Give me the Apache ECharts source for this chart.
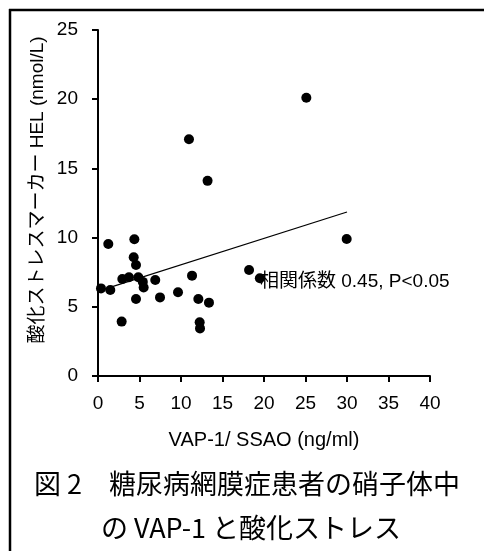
<!DOCTYPE html>
<html><head><meta charset="utf-8">
<script src="https://cdn.jsdelivr.net/npm/echarts@6/dist/echarts.min.js"></script>
<style>html,body{margin:0;padding:0;background:#fff}#c{width:484px;height:551px}</style>
</head><body><div id="c"></div>
<script>
// VAP-1/SSAO (ng/ml) vs HEL (nmol/L)
const vapX = [1.24, 4.38, 4.3, 4.58, 2.93, 3.73, 4.86, 5.4, 5.5, 6.9, 0.36, 1.48, 4.58, 7.47, 2.85,
              11.33, 9.64, 12.09, 13.37, 12.25, 12.29, 10.96, 13.2, 25.1, 29.96, 18.2, 19.5];
const helY = [9.54, 9.88, 8.58, 8.02, 7.01, 7.13, 7.13, 6.8, 6.4, 6.94, 6.33, 6.21, 5.56, 5.68, 3.93,
              7.25, 6.05, 5.56, 5.3, 3.88, 3.44, 17.1, 14.1, 20.1, 9.9, 7.66, 7.06];
const fitX = [0.4, 30];
const fitY = [6.2, 11.85];
const xAxisTicks = [0, 5, 10, 15, 20, 25, 30, 35, 40];
const yAxisTicks = [0, 5, 10, 15, 20, 25];
const xTitle = 'VAP-1/ SSAO (ng/ml)';
const yTitle = '酸化ストレスマーカー HEL (nmol/L)';
const noteText = '相関係数 0.45, P<0.05';
const caption1 = '図 2　糖尿病網膜症患者の硝子体中';
const caption2 = 'の VAP-1 と酸化ストレス';

const LAT = 'Liberation Sans, Arial, Noto Sans CJK JP, sans-serif';
const CJK = 'Noto Sans CJK JP, sans-serif';
const chart = echarts.init(document.getElementById('c'), null, {renderer: 'canvas'});
const pts = vapX.map((x, i) => [x, helY[i]]);
const fit = fitX.map((x, i) => [x, fitY[i]]);
const axisCommon = {
  axisLine: {show: true, lineStyle: {color: '#000', width: 2}},
  axisTick: {show: true, inside: false, length: 6, lineStyle: {color: '#000', width: 2}},
  splitLine: {show: false},
  axisLabel: {color: '#000', fontSize: 19, fontFamily: LAT}
};
chart.setOption({
  animation: false,
  backgroundColor: '#fff',
  grid: {left: 98, right: 54, top: 30, bottom: 175, containLabel: false},
  xAxis: Object.assign({}, axisCommon, {
    type: 'value', min: xAxisTicks[0], max: xAxisTicks[xAxisTicks.length - 1], interval: 5,
    axisLabel: Object.assign({}, axisCommon.axisLabel, {margin: 18}),
    name: xTitle, nameLocation: 'middle', nameGap: 54,
    nameTextStyle: {color: '#000', fontSize: 20, fontFamily: LAT}
  }),
  yAxis: Object.assign({}, axisCommon, {
    type: 'value', min: yAxisTicks[0], max: yAxisTicks[yAxisTicks.length - 1], interval: 5,
    axisLabel: Object.assign({}, axisCommon.axisLabel, {margin: 20})
  }),
  series: [
    {type: 'scatter', data: pts, symbol: 'circle', symbolSize: 10,
     itemStyle: {color: '#000', opacity: 1}, z: 3},
    {type: 'line', data: fit, showSymbol: false, symbol: 'none',
     lineStyle: {color: '#000', width: 1.2}, z: 2}
  ],
  graphic: [
    {type: 'line', shape: {x1: 9, y1: 10, x2: 484, y2: 10}, style: {stroke: '#000', lineWidth: 2.5}},
    {type: 'line', shape: {x1: 10, y1: 9, x2: 10, y2: 551}, style: {stroke: '#000', lineWidth: 2.5}},
    {type: 'text', x: 38, y: 190, rotation: Math.PI / 2,
     style: {text: yTitle, fill: '#000', font: '19px ' + LAT, align: 'center', verticalAlign: 'middle'}},
    {type: 'text', x: 260, y: 282,
     style: {text: noteText, fill: '#000', font: '19px ' + LAT, align: 'left', verticalAlign: 'middle'}},
    {type: 'text', x: 247, y: 484,
     style: {text: caption1, fill: '#000', font: '27px ' + CJK, align: 'center', verticalAlign: 'middle'}},
    {type: 'text', x: 251, y: 528,
     style: {text: caption2, fill: '#000', font: '27px ' + CJK, align: 'center', verticalAlign: 'middle'}}
  ]
});
</script>
</body></html>
